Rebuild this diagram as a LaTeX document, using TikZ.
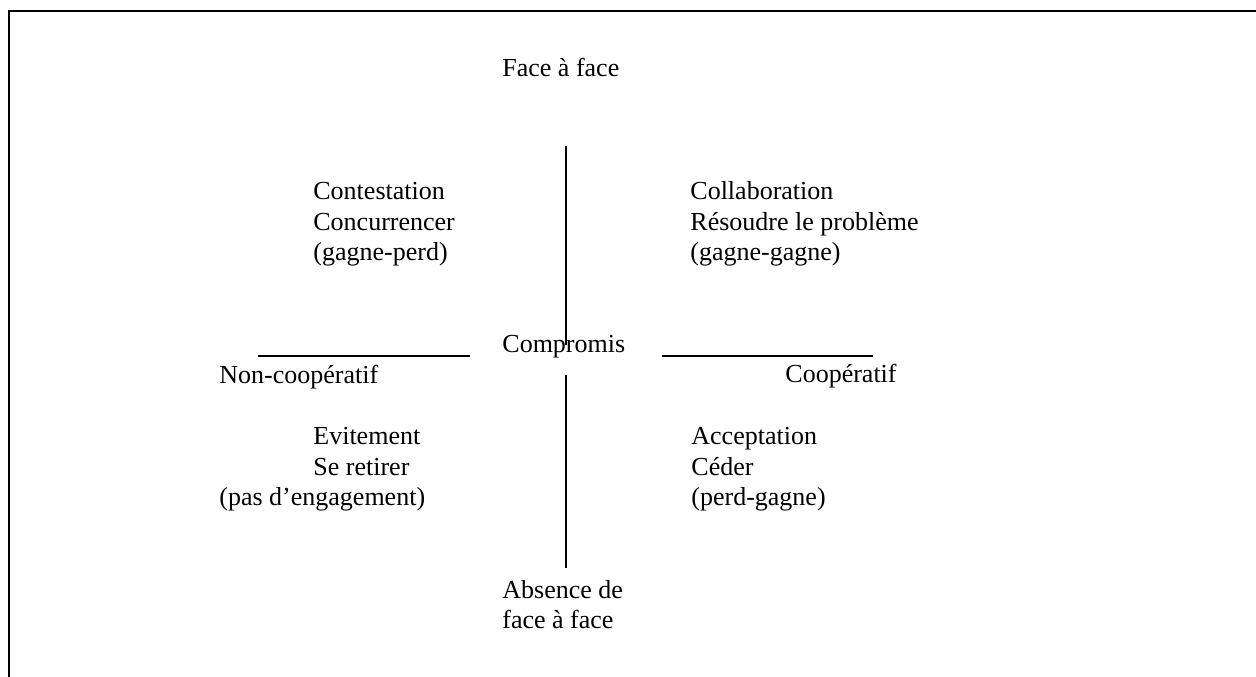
\documentclass[tikz,border=0pt]{standalone}
\usepackage{fontspec}
\setmainfont{Liberation Serif}
\begin{document}
\begin{tikzpicture}[x=0.5pt,y=-0.5pt,
  lbl/.style={anchor=base west,inner sep=0pt,font=\fontsize{13pt}{15.5pt}\selectfont},
  framerule/.style={line width=1pt,line join=miter},
  axisrule/.style={line width=1pt}]
\useasboundingbox (0,0) rectangle (1256,676);
% frame
\coordinate (tr) at (1260,11);
\coordinate (tl) at (9,11);
\coordinate (bl) at (9,680);
\draw[framerule] (tr) -- (tl) -- (bl);
% axes
\coordinate (vt1) at (566,146);
\coordinate (vb1) at (566,345);
\coordinate (vt2) at (566,375);
\coordinate (vb2) at (566,568);
\coordinate (hl1) at (258,356);
\coordinate (hl2) at (470,356);
\coordinate (hr1) at (662,356);
\coordinate (hr2) at (873,356);
\draw[axisrule] (vt1) -- (vb1);
\draw[axisrule] (vt2) -- (vb2);
\draw[axisrule] (hl1) -- (hl2);
\draw[axisrule] (hr1) -- (hr2);
% labels
\node[lbl] (face) at (502,76) {Face à face};
\node[lbl] (c1) at (313,199) {Contestation};
\node[lbl] (c2) at (313,230) {Concurrencer};
\node[lbl] (c3) at (313,260) {(gagne-perd)};
\node[lbl] (k1) at (690,199) {Collaboration};
\node[lbl] (k2) at (690,230) {Résoudre le problème};
\node[lbl] (k3) at (690,260) {(gagne-gagne)};
\node[lbl] (comp) at (502,352) {Compromis};
\node[lbl] (noncoop) at (219,383) {Non-coopératif};
\node[lbl] (coop) at (785,382) {Coopératif};
\node[lbl] (e1) at (313,444) {Evitement};
\node[lbl] (e2) at (313,475) {Se retirer};
\node[lbl] (e3) at (219,505) {(pas d’engagement)};
\node[lbl] (a1) at (691,444) {Acceptation};
\node[lbl] (a2) at (691,475) {Céder};
\node[lbl] (a3) at (691,505) {(perd-gagne)};
\node[lbl] (abs1) at (502,598) {Absence de};
\node[lbl] (abs2) at (502,628) {face à face};
\end{tikzpicture}
\end{document}
